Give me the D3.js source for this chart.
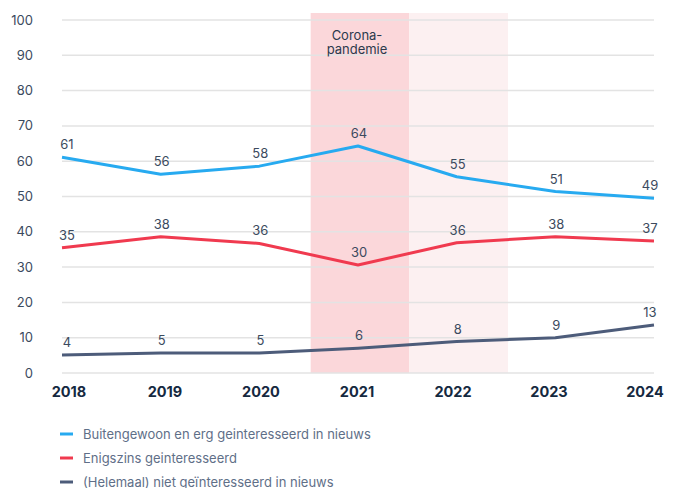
<!DOCTYPE html>
<html>
<head>
<script src="https://d3js.org/d3.v7.min.js"></script>
<style>
  body { margin: 0; background: #fff; font-family: Inter, 'Open Sans', sans-serif; }
  .grid line { stroke: #e3e3e3; stroke-width: 1.5; }
  .ytick text { fill: #3b4a5e; font-size: 13px; }
  .xtick text { fill: #15293f; font-size: 14.5px; font-weight: 700; }
  .lbl { fill: #3b4a5e; font-size: 13px; }
  .legend text { fill: #5f6f88; font-size: 13px; }
</style>
</head>
<body>
<svg id="chart" width="681" height="488"></svg>
<script>
var years = [2018, 2019, 2020, 2021, 2022, 2023, 2024];
var yTicks = [0, 10, 20, 30, 40, 50, 60, 70, 80, 90, 100];

// plotted values
var blueVals = [61.1, 56.3, 58.6, 64.3, 55.6, 51.4, 49.5];
var redVals  = [35.5, 38.6, 36.7, 30.6, 36.9, 38.6, 37.4];
var darkVals = [5.1, 5.7, 5.7, 7.0, 8.9, 10.0, 13.6];

// printed labels
var blueLbl = [61, 56, 58, 64, 55, 51, 49];
var redLbl  = [35, 38, 36, 30, 36, 38, 37];
var darkLbl = [4, 5, 5, 6, 8, 9, 13];

var seriesNames = [
  "Buitengewoon en erg geinteresseerd in nieuws",
  "Enigszins geinteresseerd",
  "(Helemaal) niet geïnteresseerd in nieuws"
];
var seriesColors = ["#27aaf0", "#f03a4f", "#4d5c7a"];

// shaded periods: [year, colour]
var bands = [[2021, "#fbd7da"], [2022, "#fcf0f1"]];

var svg = d3.select("#chart");
var plotL = 62, plotR = 654, plotT = 20, plotB = 373;

var x = d3.scaleLinear().domain([2018, 2024]).range([plotL, plotR]);
var xLabel = d3.scaleLinear().domain([2018, 2024]).range([69, 645]);
var y = d3.scaleLinear().domain([0, 100]).range([plotB, plotT]);
var half = (x(2019) - x(2018)) / 2;

// bands
svg.selectAll("rect.band").data(bands).enter().append("rect")
  .attr("class", "band")
  .attr("x", d => x(d[0]) - half + 2)
  .attr("width", half * 2)
  .attr("y", 13)
  .attr("height", plotB - 13)
  .attr("fill", d => d[1]);

// grid
var grid = svg.append("g").attr("class", "grid");
grid.selectAll("line").data(yTicks).enter().append("line")
  .attr("x1", plotL).attr("x2", plotR)
  .attr("y1", d => y(d)).attr("y2", d => y(d));

// y tick labels
svg.append("g").attr("class", "ytick").selectAll("text").data(yTicks).enter().append("text")
  .attr("x", 33).attr("y", d => y(d)).attr("dy", "0.35em")
  .attr("text-anchor", "end").text(d => d);

// x tick labels
svg.append("g").attr("class", "xtick").selectAll("text").data(years).enter().append("text")
  .attr("x", d => xLabel(d)).attr("y", 397)
  .attr("text-anchor", "middle").text(d => d);

// corona annotation
var ann = svg.append("text").attr("class", "lbl").attr("text-anchor", "middle")
  .style("fill", "#2c3a4d");
ann.append("tspan").attr("x", x(2021) - 1).attr("y", 40).text("Corona-");
ann.append("tspan").attr("x", x(2021) - 1).attr("y", 54).text("pandemie");

var allVals = [blueVals, redVals, darkVals];
var allLbl = [blueLbl, redLbl, darkLbl];
var line = d3.line().x((d, i) => x(years[i])).y(d => y(d));

allVals.forEach(function(vals, s) {
  svg.append("path").datum(vals)
    .attr("d", line)
    .attr("fill", "none")
    .attr("stroke", seriesColors[s])
    .attr("stroke-width", 3)
    .attr("stroke-linejoin", "round");
  svg.append("g").selectAll("text").data(allLbl[s]).enter().append("text")
    .attr("class", "lbl")
    .attr("x", (d, i) => x(years[i]) + (i === 0 ? 5 : (i === 6 ? -4 : 1)))
    .attr("y", (d, i) => y(vals[i]) - 8)
    .attr("text-anchor", "middle")
    .text(d => d);
});

// legend
var leg = svg.append("g").attr("class", "legend");
var rows = leg.selectAll("g").data(seriesNames).enter().append("g")
  .attr("transform", (d, i) => "translate(0," + (434 + i * 24) + ")");
rows.append("line").attr("x1", 60).attr("x2", 73).attr("y1", 0).attr("y2", 0)
  .attr("stroke", (d, i) => seriesColors[i]).attr("stroke-width", 3);
rows.append("text").attr("x", 83).attr("y", 0).attr("dy", "0.35em").text(d => d);
</script>
</body>
</html>
